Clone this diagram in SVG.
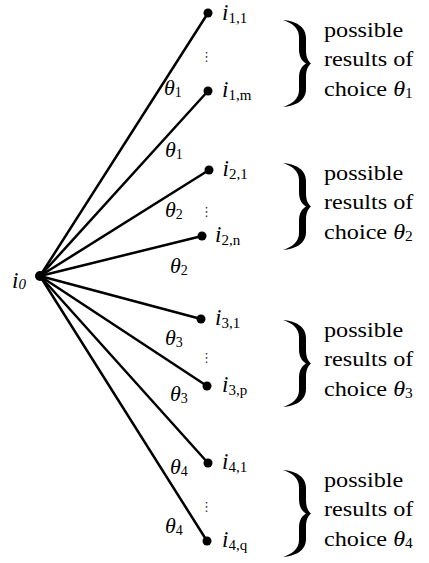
<svg xmlns="http://www.w3.org/2000/svg" width="429" height="563" viewBox="0 0 429 563">
<defs>
<style>
text{font-family:'Liberation Serif','Times New Roman','DejaVu Serif',serif;fill:#000}
.it{font-style:italic}
.lbl{font-size:23px}
.sub{font-size:15px}
.th{font-size:22px}
.ths{font-size:14px}
.br{font-size:22px}
text.vd{font-family:'DejaVu Sans',sans-serif;font-size:13px;fill:#333;text-anchor:middle}
.edge{stroke:#000;stroke-width:2.5;fill:none;stroke-linecap:round}
</style>
<path id="brace" d="M0,0 C12,1 23,6 23,18 L23,30 C23,37 25,41 28,43.5 C25,46 23,50 23,57 L23,69 C23,81 12,86 0,87 C9,84 16,79 16,70 L16,58 C16,50 19,46 23,43.5 C19,41 16,37 16,29 L16,17 C16,8 9,3 0,0 Z" fill="#000"/>
</defs>
<rect width="429" height="563" fill="#fff"/>
<g id="connectors">
<line class="edge" x1="40" y1="276" x2="208" y2="13"/>
<line class="edge" x1="40" y1="276" x2="208" y2="91"/>
<line class="edge" x1="40" y1="276" x2="209" y2="170"/>
<line class="edge" x1="40" y1="276" x2="202" y2="236"/>
<line class="edge" x1="40" y1="276" x2="201" y2="319"/>
<line class="edge" x1="40" y1="276" x2="207" y2="386"/>
<line class="edge" x1="40" y1="276" x2="208" y2="463"/>
<line class="edge" x1="40" y1="276" x2="207" y2="541"/>
</g>
<g id="edge-labels" font-family="Liberation Serif, serif">
<text class="th" x="164" y="95"><tspan class="it">θ</tspan><tspan class="ths" dy="2">1</tspan></text>
<text class="th" x="165" y="157"><tspan class="it">θ</tspan><tspan class="ths" dy="2">1</tspan></text>
<text class="th" x="165" y="217"><tspan class="it">θ</tspan><tspan class="ths" dy="2">2</tspan></text>
<text class="th" x="170" y="273"><tspan class="it">θ</tspan><tspan class="ths" dy="2">2</tspan></text>
<text class="th" x="165" y="345"><tspan class="it">θ</tspan><tspan class="ths" dy="2">3</tspan></text>
<text class="th" x="170" y="401"><tspan class="it">θ</tspan><tspan class="ths" dy="2">3</tspan></text>
<text class="th" x="170" y="474"><tspan class="it">θ</tspan><tspan class="ths" dy="2">4</tspan></text>
<text class="th" x="165" y="533"><tspan class="it">θ</tspan><tspan class="ths" dy="2">4</tspan></text>
</g>
<g id="i0">
<circle cx="40" cy="276" r="5"/>
<text class="lbl it" x="12" y="288">i<tspan class="sub" dy="1">0</tspan></text>
</g>
<g id="i11"><circle cx="208" cy="13" r="4.5"/><text class="lbl" x="222" y="19.5"><tspan class="it">i</tspan><tspan class="sub" dy="3">1,1</tspan></text></g>
<g id="i1m"><circle cx="208" cy="91" r="4.5"/><text class="lbl" x="222" y="97"><tspan class="it">i</tspan><tspan class="sub" dy="3">1,m</tspan></text></g>
<g id="i21"><circle cx="209" cy="170" r="4.5"/><text class="lbl" x="222.5" y="176"><tspan class="it">i</tspan><tspan class="sub" dy="3">2,1</tspan></text></g>
<g id="i2n"><circle cx="202" cy="236" r="4.5"/><text class="lbl" x="215" y="242"><tspan class="it">i</tspan><tspan class="sub" dy="3">2,n</tspan></text></g>
<g id="i31"><circle cx="201" cy="319" r="4.5"/><text class="lbl" x="215" y="325"><tspan class="it">i</tspan><tspan class="sub" dy="3">3,1</tspan></text></g>
<g id="i3p"><circle cx="207" cy="386" r="4.5"/><text class="lbl" x="222" y="392"><tspan class="it">i</tspan><tspan class="sub" dy="3">3,p</tspan></text></g>
<g id="i41"><circle cx="208" cy="463" r="4.5"/><text class="lbl" x="222" y="469"><tspan class="it">i</tspan><tspan class="sub" dy="3">4,1</tspan></text></g>
<g id="i4q"><circle cx="207" cy="541" r="4.5"/><text class="lbl" x="222" y="547"><tspan class="it">i</tspan><tspan class="sub" dy="3">4,q</tspan></text></g>
<g id="vdots">
<text class="vd" x="206.5" y="61">⋮</text>
<text class="vd" x="206.5" y="216">⋮</text>
<text class="vd" x="206.5" y="362">⋮</text>
<text class="vd" x="206.5" y="511">⋮</text>
</g>
<g id="group1">
<use href="#brace" x="283" y="20"/>
<g transform="translate(324,0) scale(1.1,1)">
<text class="br" x="0" y="37">possible</text>
<text class="br" x="0" y="66.5">results of</text>
<text class="br" x="0" y="96">choice <tspan class="it">θ</tspan><tspan class="ths" dy="2">1</tspan></text>
</g>
</g>
<g id="group2">
<use href="#brace" x="283" y="163"/>
<g transform="translate(324,0) scale(1.1,1)">
<text class="br" x="0" y="180">possible</text>
<text class="br" x="0" y="209.5">results of</text>
<text class="br" x="0" y="239">choice <tspan class="it">θ</tspan><tspan class="ths" dy="2">2</tspan></text>
</g>
</g>
<g id="group3">
<use href="#brace" x="283" y="320"/>
<g transform="translate(324,0) scale(1.1,1)">
<text class="br" x="0" y="337">possible</text>
<text class="br" x="0" y="366.5">results of</text>
<text class="br" x="0" y="396">choice <tspan class="it">θ</tspan><tspan class="ths" dy="2">3</tspan></text>
</g>
</g>
<g id="group4">
<use href="#brace" x="283" y="470"/>
<g transform="translate(324,0) scale(1.1,1)">
<text class="br" x="0" y="487">possible</text>
<text class="br" x="0" y="516.5">results of</text>
<text class="br" x="0" y="546">choice <tspan class="it">θ</tspan><tspan class="ths" dy="2">4</tspan></text>
</g>
</g>
</svg>
